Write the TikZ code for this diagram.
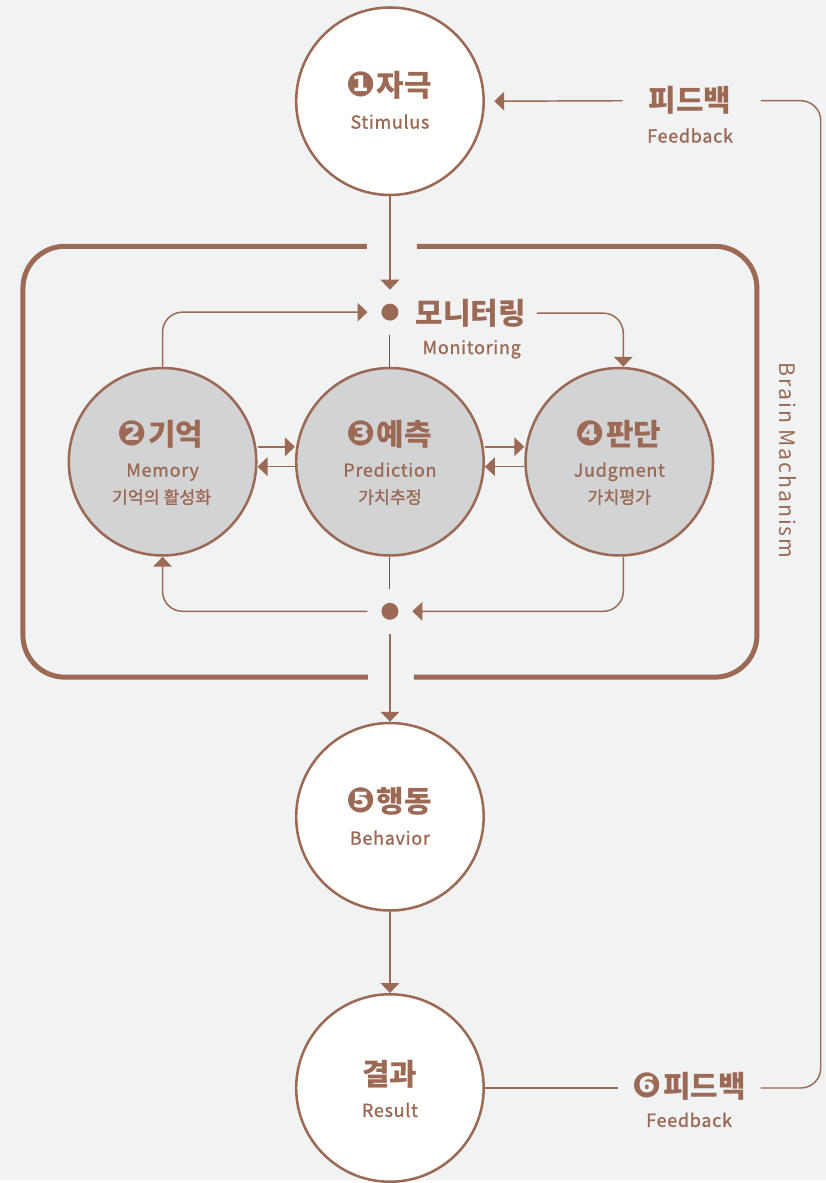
\documentclass[tikz,border=0pt]{standalone}
\usepackage{fontspec}
\setmainfont{Noto Sans CJK KR}
\newfontfamily\dv{DejaVu Sans}
\newfontfamily\enf[LetterSpace=4,FakeBold=1.2]{Noto Sans CJK KR}
\newfontfamily\subf[FakeBold=1.4]{Noto Sans CJK KR}
\newfontfamily\vtf[LetterSpace=9]{Noto Sans CJK KR}
\usetikzlibrary{arrows.meta}
\definecolor{bg}{HTML}{F1F2F4}
\definecolor{brn}{HTML}{9B6954}
\definecolor{cgray}{HTML}{D2D3D5}
\definecolor{stemc}{HTML}{5A5A5A}
\newcommand{\cn}[1]{{\dv\fontsize{26}{27}\selectfont #1}\kern1pt}
\begin{document}
\begin{tikzpicture}[x=0.75pt,y=-0.75pt,
  stage/.style={circle,draw=brn,line width=1.9pt,fill=white,minimum size=141pt,inner sep=0pt},
  core/.style={stage,fill=cgray},
  ttl/.style={text=brn,font=\bfseries\fontsize{22.5}{26}\selectfont,inner sep=0pt},
  eng/.style={text=brn,font=\enf\fontsize{13.5}{16}\selectfont,inner sep=0pt,anchor=base},
  sub/.style={text=brn,font=\subf\fontsize{13}{15}\selectfont,inner sep=0pt,anchor=base},
  conn/.style={draw=brn,line width=1.1pt,rounded corners=15pt},
  tip/.style={-{Triangle[length=7.5pt,width=14pt]}},
  stemline/.style={draw=stemc,line width=0.8pt},
  hub/.style={circle,fill=brn,minimum size=12.75pt,inner sep=0pt,outer sep=10.5pt},
]
% canvas
\fill[bg] (0,0) rectangle (828,1183);

% brain mechanism frame, open at top and bottom for the main flow
\draw[brn,line width=3.75pt,rounded corners=31.5pt] (368,247) -- (23,247) -- (23,679) -- (369,679);
\draw[brn,line width=3.75pt,rounded corners=31.5pt] (418,247) -- (759,247) -- (759,679) -- (415,679);
\node[text=brn,font=\vtf\fontsize{16}{19}\selectfont,rotate=-90,inner sep=0pt] (brain) at (790,462) {Brain Machanism};

% stage circles
\node[stage] (stim) at (391,101.5) {};
\node[core]  (mem)  at (163,463) {};
\node[core]  (pred) at (391,463) {};
\node[core]  (judg) at (621,463) {};
\node[stage] (beh)  at (391,819) {};
\node[stage] (res)  at (391,1091) {};

% junction dots
\node[hub] (mon)   at (391,313) {};
\node[hub] (merge) at (391,613) {};

% labels
\node[ttl] (stimT) at (390,86) {\cn{❶}자극};
\node[eng] (stimE) at (391,129) {Stimulus};

\node[ttl] (monT) at (472,314) {모니터링};
\node[eng] (monE) at (473,355) {Monitoring};

\node[ttl] (memT) at (161,435) {\cn{❷}기억};
\node[eng] (memE) at (163,478) {Memory};
\node[sub] (memK) at (162,505) {기억의 활성화};

\node[ttl] (predT) at (390,435) {\cn{❸}예측};
\node[eng] (predE) at (391,478) {Prediction};
\node[sub] (predK) at (391,505) {가치추정};

\node[ttl] (judgT) at (620,435) {\cn{❹}판단};
\node[eng] (judgE) at (621,478) {Judgment};
\node[sub] (judgK) at (621,505) {가치평가};

\node[ttl] (behT) at (390,804) {\cn{❺}행동};
\node[eng] (behE) at (391,847) {Behavior};

\node[ttl] (resT) at (391,1077) {결과};
\node[eng] (resE) at (391,1120) {Result};

\node[ttl] (fbT) at (692,101) {피드백};
\node[eng] (fbE) at (692,143) {Feedback};

\node[ttl] (fb2T) at (691,1089) {\cn{❻}피드백};
\node[eng] (fb2E) at (691,1130) {Feedback};

% main flow
\draw[conn,tip] (stim.south) -- (mon.north);
\draw[conn,tip] (merge.south) -- (beh.north);
\draw[conn,tip] (beh.south) -- (res.north);

% monitoring loop
\draw[conn,tip] (mem.north) |- (mon.west);
\draw[conn,tip] ([xshift=8.25pt]monT.east) -| ([xshift=3pt]judg.north);
\draw[stemline] (mon.south) -- (pred.north);

% exchanges between the core stages
\draw[conn,tip] ([yshift=11.25pt]mem.east) -- ([yshift=11.25pt]pred.west);
\draw[conn,tip] ([yshift=-3.75pt]pred.west) -- ([yshift=-3.75pt]mem.east);
\draw[conn,tip] ([yshift=11.25pt]pred.east) -- ([yshift=11.25pt]judg.west);
\draw[conn,tip] ([yshift=-3.75pt]judg.west) -- ([yshift=-3.75pt]pred.east);

% return loop
\draw[stemline] (pred.south) -- (merge.north);
\draw[conn,tip] ([xshift=3pt]judg.south) |- (merge.east);
\draw[conn,tip] (merge.west) -| (mem.south);

% feedback loop
\coordinate (fbIn) at ([xshift=-10.5pt]fb2T.west);
\coordinate (fbOut) at ([xshift=11pt]fb2T.east);
\coordinate (fbTo) at ([xshift=22pt]fbT.east);
\coordinate (railTop) at (823,101);
\draw[conn] (res.east) -- (res.east -| fbIn);
\draw[conn] (res.east -| fbOut) -| (railTop) -- (fbTo);
\draw[conn,tip] ([xshift=-19.5pt]fbT.west) -- ([xshift=7pt]stim.east);
\end{tikzpicture}
\end{document}
